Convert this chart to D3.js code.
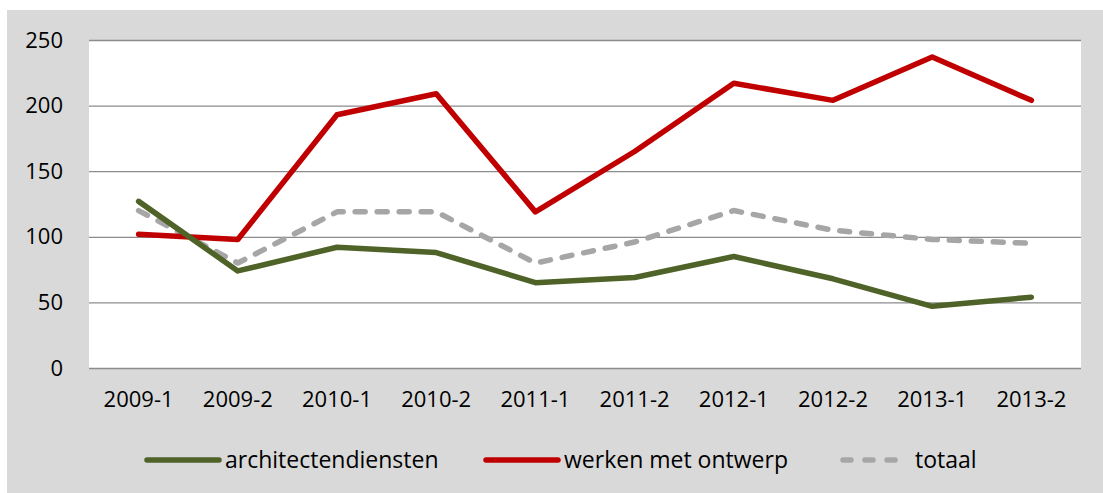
<!DOCTYPE html>
<html lang="nl">
<head>
<meta charset="UTF-8">
<title>architectendiensten</title>
<style>
  body { margin: 0; background: #fff; }
  svg { display: block; font-family: "Open Sans", "Noto Sans", sans-serif; }
  .tick text { fill: #000; }
</style>
<script src="https://d3js.org/d3.v7.min.js"></script>
</head>
<body>
<svg id="chart"></svg>
<script>
const width = 1103, height = 493;

const periods = ["2009-1", "2009-2", "2010-1", "2010-2", "2011-1", "2011-2", "2012-1", "2012-2", "2013-1", "2013-2"];
const architectendiensten = [127, 74, 92, 88, 65, 69, 85, 68, 47, 54];
const werkenMetOntwerp = [102, 98, 193, 209, 119, 165, 217, 204, 237, 204];
const totaal = [120, 80, 119, 119, 80, 96, 120, 105, 98, 95];
const yTicks = [0, 50, 100, 150, 200, 250];

const series = [
  { name: "architectendiensten", values: architectendiensten, color: "#4f6228", dash: null },
  { name: "werken met ontwerp", values: werkenMetOntwerp, color: "#c00000", dash: null },
  { name: "totaal", values: totaal, color: "#a6a6a6", dash: "10,12" }
];

const plot = { left: 89, right: 1081, top: 40, bottom: 368 };

const svg = d3.select("#chart").attr("width", width).attr("height", height);

svg.append("rect")
  .attr("x", 7).attr("y", 10)
  .attr("width", width - 7).attr("height", height - 10)
  .attr("fill", "#d9d9d9");

svg.append("rect")
  .attr("x", plot.left).attr("y", plot.top)
  .attr("width", plot.right - plot.left).attr("height", plot.bottom - plot.top)
  .attr("fill", "#fff");

const x = d3.scaleBand().domain(periods).range([plot.left, plot.right]);
const y = d3.scaleLinear().domain([0, 250]).range([plot.bottom, plot.top]);

// gridlines
svg.append("g")
  .selectAll("line")
  .data(yTicks)
  .join("line")
  .attr("x1", plot.left).attr("x2", plot.right)
  .attr("y1", d => y(d) + 0.5).attr("y2", d => y(d) + 0.5)
  .attr("stroke", "#8c8c8c")
  .attr("stroke-width", 1.3);

// y axis labels
svg.append("g")
  .attr("transform", `translate(${plot.left - 26},0)`)
  .call(d3.axisLeft(y).tickValues(yTicks).tickSize(0).tickPadding(0))
  .call(g => g.select(".domain").remove())
  .selectAll("text")
  .attr("font-size", 22);

// x axis labels
svg.append("g")
  .attr("transform", `translate(0,${plot.bottom + 23})`)
  .call(d3.axisBottom(x).tickSize(0).tickPadding(0))
  .call(g => g.select(".domain").remove())
  .selectAll("text")
  .attr("font-size", 22);

svg.selectAll(".tick text").attr("font-family", "'Open Sans', 'Noto Sans', sans-serif");

const line = d3.line()
  .x((d, i) => x(periods[i]) + x.bandwidth() / 2)
  .y(d => y(d));

svg.append("g")
  .selectAll("path")
  .data(series.slice().reverse())
  .join("path")
  .attr("d", d => line(d.values))
  .attr("fill", "none")
  .attr("stroke", d => d.color)
  .attr("stroke-width", 5.5)
  .attr("stroke-linecap", "round")
  .attr("stroke-linejoin", "round")
  .attr("stroke-dasharray", d => d.dash);

// legend
const legendY = 460;
const legendX = [147, 486, 839];
const legend = svg.append("g")
  .selectAll("g")
  .data(series)
  .join("g")
  .attr("transform", (d, i) => `translate(${legendX[i]},${legendY})`);

legend.append("line")
  .attr("x1", 0).attr("x2", d => d.dash ? 62 : 72)
  .attr("y1", 0).attr("y2", 0)
  .attr("stroke", d => d.color)
  .attr("stroke-width", 5.5)
  .attr("stroke-linecap", "round")
  .attr("stroke-dasharray", d => d.dash ? "8,14" : null)
  .attr("transform", d => d.dash ? "translate(4,0)" : null);

legend.append("text")
  .attr("x", (d, i) => i === 2 ? 76 : 78)
  .attr("y", 0)
  .attr("dy", "0.35em")
  .attr("font-size", 23)
  .attr("fill", "#000")
  .text(d => d.name);
</script>
</body>
</html>
